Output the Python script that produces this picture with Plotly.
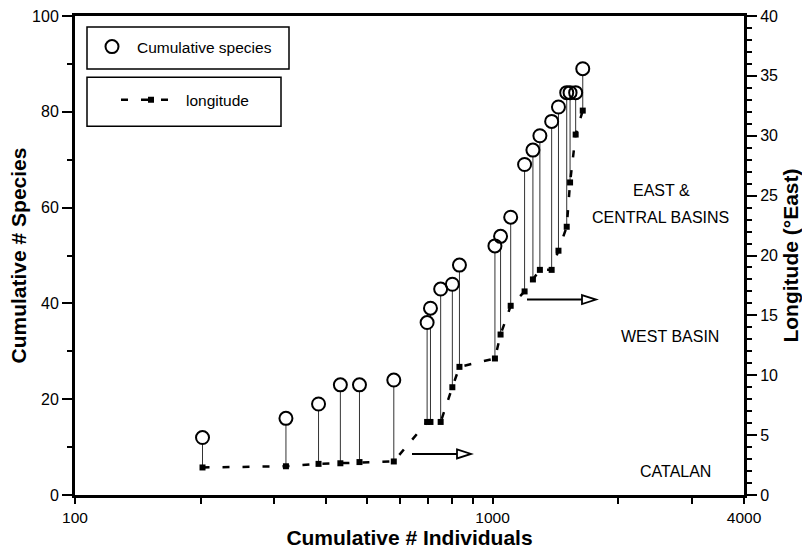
import plotly.graph_objects as go

# ---- data ----
individuals = [202, 320, 383, 432, 480, 580, 697, 710, 751, 801, 833, 1013,
               1045, 1105, 1193, 1249, 1298, 1385, 1438, 1505, 1533, 1581, 1644]
species = [12, 16, 19, 23, 23, 24, 36, 39, 43, 44, 48, 52,
           54, 58, 69, 72, 75, 78, 81, 84, 84, 84, 89]
longitude = [2.3, 2.4, 2.6, 2.65, 2.75, 2.8, 6.1, 6.1, 6.1, 9.0, 10.7, 11.4,
             13.4, 15.8, 17.0, 18.0, 18.8, 18.8, 20.4, 22.4, 26.1, 30.1, 32.1]

x_tickvals = [100, 200, 300, 400, 500, 600, 700, 800, 900, 1000, 2000, 3000, 4000]
x_ticktext = ["100", "", "", "", "", "", "", "", "", "1000", "", "", "4000"]

Y1_MAX = 100
Y2_MAX = 40
ratio = Y1_MAX / Y2_MAX

FONT = "Liberation Sans, Arial, Helvetica, sans-serif"

# drop lines (in left-axis units)
dx, dy = [], []
for xi, s, lon in zip(individuals, species, longitude):
    dx += [xi, xi, None]
    dy += [s, lon * ratio, None]

fig = go.Figure()

fig.add_trace(go.Scatter(
    x=dx, y=dy, mode="lines", line=dict(color="#333", width=1),
    showlegend=False, hoverinfo="skip"))

fig.add_trace(go.Scatter(
    x=individuals, y=longitude, yaxis="y2", mode="lines+markers",
    name="longitude", legend="legend2",
    line=dict(color="black", width=2.5, dash="7px,13px"),
    marker=dict(symbol="square", size=6, color="black")))

# white fill under circles (hides drop lines inside circles)
fig.add_trace(go.Scatter(
    x=individuals, y=species, mode="markers",
    marker=dict(symbol="circle", size=13, color="white", line=dict(width=0)),
    showlegend=False, hoverinfo="skip"))

fig.add_trace(go.Scatter(
    x=individuals, y=species, mode="markers", name="Cumulative species",
    legend="legend",
    marker=dict(symbol="circle-open", size=13, color="black",
                line=dict(width=2, color="black"))))

# plot-area pixel geometry: left 75, right 744, top 17, bottom 495
def frac_x(px):
    return (px - 75) / 669

def frac_y(py):
    return (495 - py) / 478

labels = [("EAST &", 661, 190.7), ("CENTRAL BASINS", 660, 218.3),
          ("WEST BASIN", 670, 337), ("CATALAN", 675.5, 472)]
for t, px, py in labels:
    fig.add_annotation(text=t, x=frac_x(px), y=frac_y(py), xref="paper", yref="paper",
                       showarrow=False, font=dict(size=16, color="black", family=FONT),
                       xanchor="center", yanchor="middle")

# arrows with open heads
arrows = [(412, 457, 471, 454), (527, 582, 596, 300)]
hh = 4.5 / 478
for x0, xh, x1, py in arrows:
    fig.add_shape(type="line", xref="paper", yref="paper",
                  x0=frac_x(x0), x1=frac_x(xh), y0=frac_y(py), y1=frac_y(py),
                  line=dict(color="black", width=2))
    path = "M {a},{b} L {c},{d} L {a},{e} Z".format(
        a=frac_x(xh), b=frac_y(py) + hh, c=frac_x(x1), d=frac_y(py), e=frac_y(py) - hh)
    fig.add_shape(type="path", xref="paper", yref="paper", path=path,
                  fillcolor="white", line=dict(color="black", width=1.8))

# legend frames
for (bx0, by0, bx1, by1) in [(87, 28, 289, 70), (87, 78, 281, 127)]:
    fig.add_shape(type="rect", xref="paper", yref="paper",
                  x0=frac_x(bx0), x1=frac_x(bx1), y0=frac_y(by1), y1=frac_y(by0),
                  line=dict(color="black", width=1.5), fillcolor="rgba(0,0,0,0)")

fig.update_layout(
    width=802, height=551,
    margin=dict(l=75, r=58, t=16, b=56, pad=0),
    paper_bgcolor="white", plot_bgcolor="white",
    font=dict(family=FONT, size=15, color="black"),
    xaxis=dict(
        type="log", range=[2, 3.60206], automargin=False,
        tickvals=x_tickvals, ticktext=x_ticktext,
        ticks="outside", ticklen=6, tickwidth=1.5, tickcolor="black",
        showline=True, linewidth=3, linecolor="black", mirror=True,
        showgrid=False, zeroline=False,
        tickfont=dict(size=15.5),
        title=dict(text="<b>Cumulative # Individuals</b>", font=dict(size=21), standoff=6),
    ),
    yaxis=dict(
        range=[0, Y1_MAX], dtick=20, tick0=0, automargin=False,
        ticks="outside", ticklen=10, tickwidth=1.5, tickcolor="black",
        minor=dict(dtick=10, ticks="outside", ticklen=5, tickwidth=1.5, tickcolor="black"),
        showline=True, linewidth=3, linecolor="black",
        showgrid=False, zeroline=False,
        tickfont=dict(size=16),
        title=dict(text="<b>Cumulative # Species</b>", font=dict(size=21), standoff=0),
    ),
    yaxis2=dict(
        range=[0, Y2_MAX], dtick=5, tick0=0, overlaying="y", side="right", automargin=False,
        ticks="outside", ticklen=10, tickwidth=1.5, tickcolor="black",
        minor=dict(dtick=1, ticks="outside", ticklen=5, tickwidth=1.5, tickcolor="black"),
        showline=True, linewidth=3, linecolor="black",
        showgrid=False, zeroline=False,
        tickfont=dict(size=16),
        title=dict(text="<b>Longitude (°East)</b>", font=dict(size=21), standoff=8),
    ),
    legend=dict(x=frac_x(87), y=frac_y(31), xanchor="left", yanchor="top",
                borderwidth=0, bgcolor="rgba(0,0,0,0)",
                font=dict(size=15.5), itemwidth=40, tracegroupgap=0),
    legend2=dict(x=frac_x(116), y=frac_y(84), xanchor="left", yanchor="top",
                 borderwidth=0, bgcolor="rgba(0,0,0,0)",
                 font=dict(size=15.5), itemwidth=60, tracegroupgap=0),
)

fig.write_html("out.html")
